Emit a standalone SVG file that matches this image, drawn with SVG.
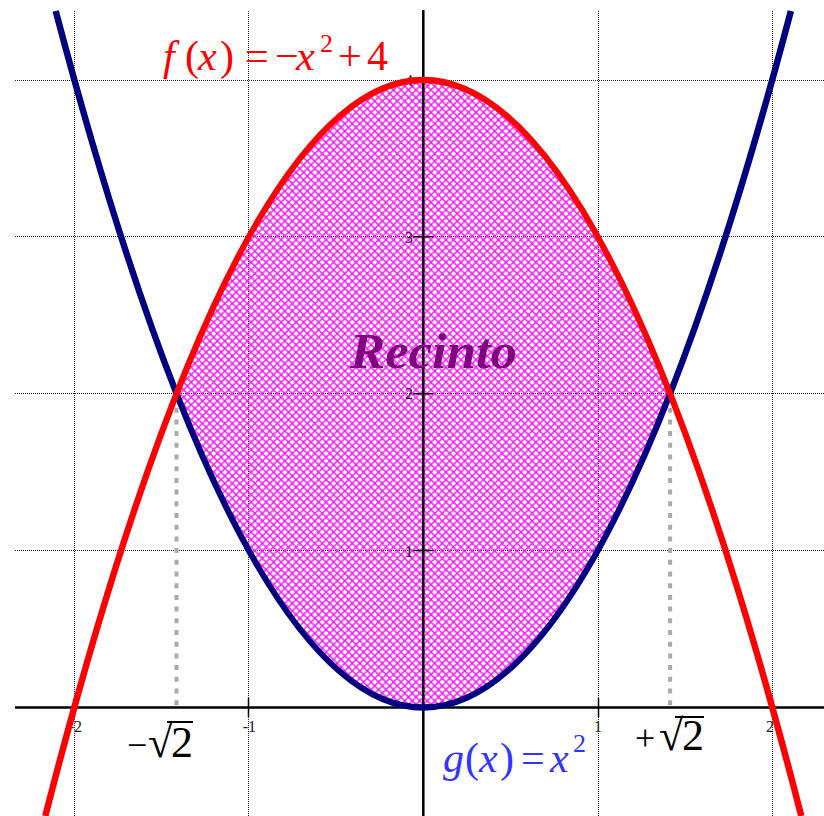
<svg xmlns="http://www.w3.org/2000/svg" width="824" height="816" viewBox="0 0 824 816">
<style>
.grid{stroke:#222;stroke-width:1;stroke-dasharray:1 1;fill:none}
.axis{stroke:#000;stroke-width:2.5;fill:none}
.tick{stroke:#000;stroke-width:1.5;fill:none}
.tl{font-family:"Liberation Serif",serif;font-size:16px;fill:#222}
.sep{stroke:#aaaaaa;stroke-width:4;stroke-dasharray:5 6.7;fill:none}
.cf{stroke:#ff0000;stroke-width:6.5;fill:none}
.cg{stroke:#000080;stroke-width:6.5;fill:none}
.lf{font-family:"Liberation Serif",serif;font-size:42px;fill:#ff0000}
.lg{font-family:"Liberation Serif",serif;font-size:42px;fill:#3333ff}
.ls{font-family:"Liberation Serif",serif;font-size:44px;fill:#000}
.it{font-style:italic}
.rec{font-family:"Liberation Serif",serif;font-size:51px;font-weight:bold;font-style:italic;fill:#800080}
</style>
<defs>
<pattern id="hatch" patternUnits="userSpaceOnUse" width="5.3" height="5.3" patternTransform="rotate(45)">
<path d="M0 2.65H5.3M2.65 0V5.3" stroke="#ff00ff" stroke-width="1.3" fill="none"/>
</pattern>
</defs>
<rect width="824" height="816" fill="#fff"/>
<g id="grid">
<path class="grid" d="M15 80.5H824M15 236.5H824M15 393.5H824M15 550.5H824"/>
<path class="grid" d="M74.5 11V816M248.5 11V816M598.5 11V816M772.5 11V816"/>
</g>
<g id="recinto">
<path d="M176.5 393.7Q423.3 -233.9 670.1 393.7Q423.3 1021.3 176.5 393.7Z" fill="url(#hatch)"/>
</g>
<g id="limits">
<path class="sep" d="M176.5 396V707M670.1 396V707"/>
</g>
<g id="axes">
<path class="axis" d="M15 707.5H824M423.3 10V816"/>
<path class="tick" d="M74.5 698V717M248.5 698V717M598.5 698V717M772.5 698V717M413 80H433M413 236.8H433M413 393.7H433M413 550.6H433"/>
<text class="tl" x="82" y="732" text-anchor="end">-2</text>
<text class="tl" x="256" y="732" text-anchor="end">-1</text>
<text class="tl" x="594" y="732">1</text>
<text class="tl" x="766" y="732">2</text>
<text class="tl" x="413" y="86" text-anchor="end">4</text>
<text class="tl" x="413" y="243" text-anchor="end">3</text>
<text class="tl" x="413" y="399" text-anchor="end">2</text>
<text class="tl" x="413" y="557" text-anchor="end">1</text>
</g>
<g id="curve-g">
<path class="cg" d="M55.7 11Q423.3 1404 790.9 11"/>
</g>
<g id="curve-f">
<path class="cf" d="M45.3 816Q423.3 -656.2 801.3 816"/>
</g>
<g id="label-f">
<text class="lf" y="70"><tspan x="163" class="it">f</tspan><tspan x="185">(</tspan><tspan x="198" class="it">x</tspan><tspan x="220">)</tspan><tspan x="245">=</tspan><tspan x="275">−</tspan><tspan x="296" class="it">x</tspan><tspan x="320" y="52" font-size="26">2</tspan><tspan x="338" y="70">+</tspan><tspan x="367">4</tspan></text>
</g>
<g id="label-g">
<text class="lg" y="772"><tspan x="443" class="it">g</tspan><tspan x="465">(</tspan><tspan x="479" class="it">x</tspan><tspan x="500">)</tspan><tspan x="521">=</tspan><tspan x="550" class="it">x</tspan><tspan x="573" y="752" font-size="26">2</tspan></text>
</g>
<g id="label-recinto">
<text class="rec" x="350" y="368" textLength="167" lengthAdjust="spacingAndGlyphs">Recinto</text>
</g>
<g id="label-minus-sqrt2">
<text class="ls" y="757"><tspan x="127" font-size="36">−</tspan><tspan x="148">√</tspan><tspan x="171">2</tspan></text>
<path d="M167 722H193" stroke="#000" stroke-width="2"/>
</g>
<g id="label-plus-sqrt2">
<text class="ls" y="750"><tspan x="635" font-size="36">+</tspan><tspan x="659">√</tspan><tspan x="682">2</tspan></text>
<path d="M675 717H704" stroke="#000" stroke-width="2"/>
</g>
</svg>
